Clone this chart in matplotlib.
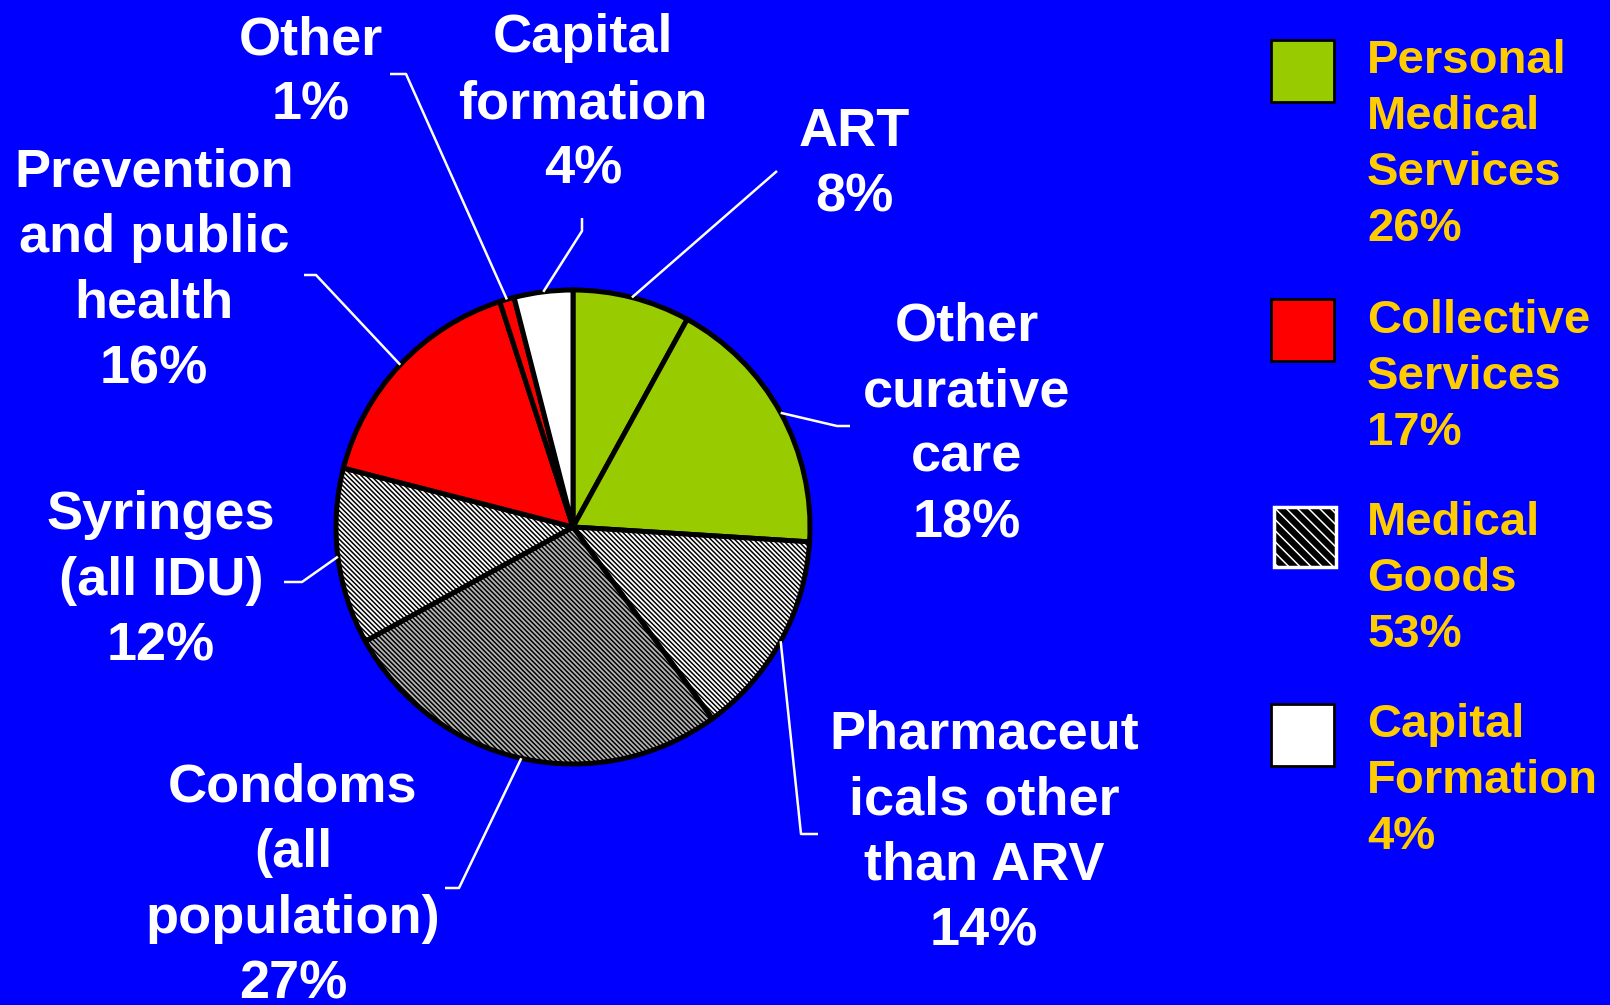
import matplotlib
matplotlib.use("Agg")
import matplotlib.pyplot as plt
from matplotlib.patches import Rectangle
import numpy as np

plt.rcParams['font.family'] = ['Liberation Sans', 'DejaVu Sans']
plt.rcParams['hatch.linewidth'] = 1.1

# ---- data ----
slice_labels = ["ART", "Other\ncurative\ncare", "Pharmaceut\nicals other\nthan ARV",
                "Condoms\n(all\npopulation)", "Syringes\n(all IDU)",
                "Prevention\nand public\nhealth", "Other", "Capital\nformation"]
slice_values = [8, 18, 14, 27, 12, 16, 1, 4]

group_labels = ["Personal\nMedical\nServices", "Collective\nServices", "Medical\nGoods", "Capital\nFormation"]
group_values = [26, 17, 53, 4]

# ---- styles ----
W, H = 1610, 1005
BG = '#0000FF'
group_face = ['#99CC00', '#FF0000', 'white', 'white']
slice_face = ['#99CC00', '#99CC00', 'white', '#b4b4b4', 'white', '#FF0000', '#FF0000', 'white']
slice_hatch = [None, None, '\\' * 7, '\\' * 7, '\\' * 7, None, None, None]

# label text centers (image px) and leader line knee/end points (image px)
label_pos = [(854, 161), (967, 421), (984, 829), (293, 882), (161, 577), (154, 267), (311, 69), (583, 100)]
leader_pts = [[(777, 171)], [(837, 426), (850, 426)], [(801, 834), (818, 834)],
              [(459, 888), (445, 888)], [(302, 582), (284, 582)], [(316, 275), (304, 275)],
              [(406, 74), (390, 74)], [(582, 231), (582, 218)]]

cx, cy_img, R = 573, 527, 237

fig = plt.figure(figsize=(W / 100, H / 100), dpi=100, facecolor=BG)
ax = fig.add_axes([0, 0, 1, 1])
ax.set_facecolor(BG)

wedges, _ = ax.pie(slice_values, startangle=90, counterclock=False,
                   center=(cx, H - cy_img), radius=R, colors=slice_face,
                   wedgeprops=dict(edgecolor='black', linewidth=3.6))
for w, h in zip(wedges, slice_hatch):
    if h:
        w.set_hatch(h)
ax.set_xlim(0, W)
ax.set_ylim(0, H)
ax.set_aspect('auto')
ax.axis('off')

# labels and leader lines
total = sum(slice_values)
start = 90.0
for i, (lab, v) in enumerate(zip(slice_labels, slice_values)):
    mid = start - v / total * 360 / 2
    start -= v / total * 360
    a = np.deg2rad(mid)
    x0 = cx + R * np.cos(a)
    y0 = (H - cy_img) + R * np.sin(a)
    xs = [x0] + [p[0] for p in leader_pts[i]]
    ys = [y0] + [H - p[1] for p in leader_pts[i]]
    ax.plot(xs, ys, color='white', lw=1.8, solid_capstyle='butt', zorder=1)
    tx, ty = label_pos[i]
    ax.text(tx, H - ty - 4, f"{lab}\n{v}%", ha='center', va='center', color='white',
            fontsize=39, fontweight='bold', linespacing=1.41)

# legend
patch_y = [71, 330, 537, 735]
text_center = [141, 373, 575, 777]
for i, (lab, v) in enumerate(zip(group_labels, group_values)):
    py = patch_y[i]
    if i == 2:
        rect = Rectangle((1274, H - py - 30), 62, 60, facecolor='black', edgecolor='white',
                         linewidth=2.5, hatch='\\' * 3)
    else:
        rect = Rectangle((1271, H - py - 31), 63, 62, facecolor=group_face[i], edgecolor='black',
                         linewidth=2)
    ax.add_patch(rect)
    ax.text(1367, H - text_center[i] - 4, f"{lab}\n{v}%", ha='left', va='center', color='#FFCC00',
            fontsize=34, fontweight='bold', linespacing=1.36)

fig.savefig("out.png", dpi=100, facecolor=BG)
